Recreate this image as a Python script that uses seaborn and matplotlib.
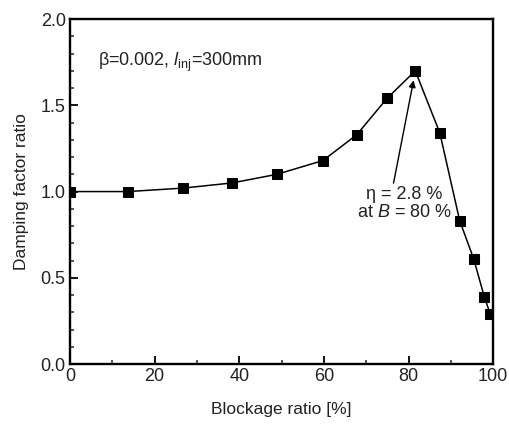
import matplotlib
matplotlib.use("Agg")
import matplotlib.pyplot as plt
import seaborn as sns
import pandas as pd
from matplotlib.ticker import MultipleLocator

blockage = [0, 13.7, 26.7, 38.3, 48.9, 59.8, 67.8, 74.9, 81.6, 87.4, 92.1, 95.4, 97.9, 99.3]
damping = [1.00, 1.00, 1.02, 1.05, 1.10, 1.18, 1.33, 1.54, 1.70, 1.34, 0.83, 0.61, 0.39, 0.29]

df = pd.DataFrame({"Blockage ratio": blockage, "Damping factor ratio": damping})

sns.set_theme(style="ticks")
plt.rcParams['font.family'] = ['Liberation Sans', 'DejaVu Sans']
plt.rcParams['mathtext.fontset'] = 'custom'
plt.rcParams['mathtext.rm'] = 'Liberation Sans'
plt.rcParams['mathtext.it'] = 'Liberation Sans:italic'

fig = plt.figure(figsize=(5.1, 4.25), dpi=100)
ax = fig.add_axes([0.137, 0.1435, 0.83, 0.8115])

sns.lineplot(data=df, x="Blockage ratio", y="Damping factor ratio", ax=ax,
             color="black", marker="s", markersize=7, markeredgecolor="black",
             linewidth=1.1, sort=False)

ax.set_xlim(0, 100)
ax.set_ylim(0, 2.0)
ax.xaxis.set_major_locator(MultipleLocator(20))
ax.xaxis.set_minor_locator(MultipleLocator(10))
ax.yaxis.set_major_locator(MultipleLocator(0.5))
ax.yaxis.set_minor_locator(MultipleLocator(0.1))
ax.tick_params(which="major", direction="in", length=6, width=1.3, labelsize=13,
               labelcolor="#222222", colors="black", pad=3)
ax.tick_params(which="minor", direction="in", length=3, width=1.1)
for s in ax.spines.values():
    s.set_linewidth(1.7)
    s.set_color("black")

ax.set_xlabel("Blockage ratio [%]", fontsize=12.5, labelpad=12, color="#222222")
ax.set_ylabel("Damping factor ratio", fontsize=12.5, labelpad=8, color="#222222")

ax.text(6.6, 1.75, r"β=0.002, $\mathit{l}_{\mathrm{inj}}$=300mm", fontsize=13, va="center", color="#222222")

ax.annotate("η = 2.8 %\nat $\\mathit{B}$ = 80 %", xy=(81.2, 1.645), xytext=(79.0, 1.03),
            fontsize=13, ha="center", va="top", color="#222222", linespacing=1.05,
            arrowprops=dict(arrowstyle="-|>", color="black", lw=1.0, mutation_scale=10,
                            shrinkA=0, shrinkB=0, relpos=(0.38, 1.0)))

fig.savefig("out.png", dpi=100)
